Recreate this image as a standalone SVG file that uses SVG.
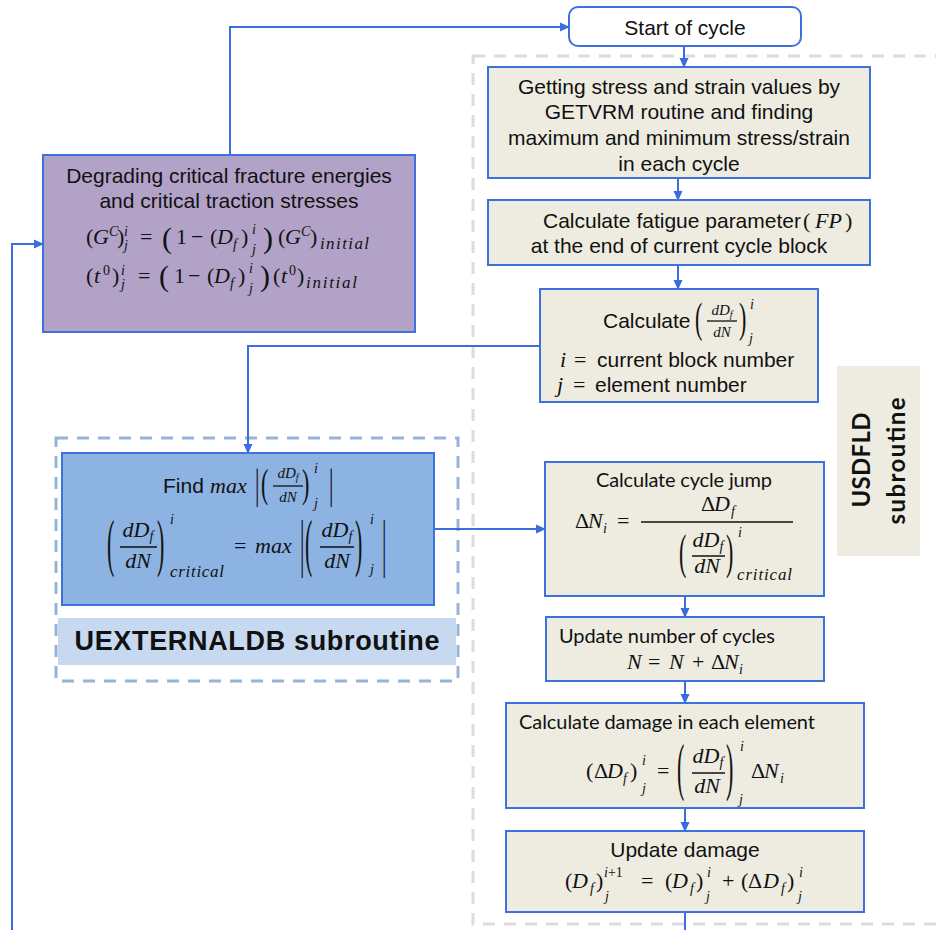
<svg xmlns="http://www.w3.org/2000/svg" width="936" height="930" viewBox="0 0 936 930">
<style>
.bg{fill:#ffffff}
.box{stroke:#3d72dc;stroke-width:2}
.beige{fill:#eeece1}
.purple{fill:#b2a2c8}
.blue{fill:#8db3e2}
.conn{fill:none;stroke:#3b6de0;stroke-width:2}
.t{font-family:"Liberation Sans",Arial,sans-serif;font-size:21px;fill:#111}
.c{font-family:Lato,"Open Sans",sans-serif;font-size:20px;fill:#111}
.m{font-family:"Liberation Serif","DejaVu Serif",serif;font-style:italic;font-size:22px;fill:#111}
.u{font-family:"Liberation Serif","DejaVu Serif",serif;font-size:22px;fill:#111}
.s{font-size:14px}
.fr{stroke:#111;stroke-width:1.3}
.lb{font-family:Lato,"Liberation Sans",sans-serif;font-weight:bold;font-size:24px;fill:#111}
</style>
<defs>
<marker id="ah" markerWidth="10" markerHeight="10" refX="9" refY="5" orient="auto" markerUnits="userSpaceOnUse">
<path d="M0,0.5 L10,5 L0,9.5 z" fill="#3b6de0"/>
</marker>
</defs>
<rect class="bg" x="0" y="0" width="936" height="930"/>

<g id="usdfld-region">
<rect x="473" y="56" width="480" height="868" fill="none" stroke="#dcdcdc" stroke-width="3" stroke-dasharray="12 9"/>
</g>

<g id="uexternaldb-region">
<rect x="56" y="438" width="402" height="243" fill="none" stroke="#95b3d7" stroke-width="3" stroke-dasharray="12 9"/>
<rect x="58" y="618" width="398" height="47" fill="#c6d9f1"/>
<text class="t" x="257" y="650" text-anchor="middle" style="font-weight:bold;font-size:27px" textLength="365">UEXTERNALDB subroutine</text>
</g>

<g id="usdfld-label">
<rect x="837" y="366" width="83" height="190" fill="#eeece1"/>
<text class="lb" transform="translate(870,460) rotate(-90)" text-anchor="middle" textLength="95">USDFLD</text>
<text class="lb" transform="translate(905,461) rotate(-90)" text-anchor="middle" textLength="127">subroutine</text>
</g>

<g id="connectors">
<path class="conn" d="M12,930 V244 H43" marker-end="url(#ah)"/>
<path class="conn" d="M230,155 V27 H569" marker-end="url(#ah)"/>
<path class="conn" d="M684,46 V67" marker-end="url(#ah)"/>
<path class="conn" d="M678,178 V200" marker-end="url(#ah)"/>
<path class="conn" d="M678,265 V289" marker-end="url(#ah)"/>
<path class="conn" d="M540,346 H248 V453" marker-end="url(#ah)"/>
<path class="conn" d="M434,529 H545" marker-end="url(#ah)"/>
<path class="conn" d="M685,596 V617" marker-end="url(#ah)"/>
<path class="conn" d="M685,681 V703" marker-end="url(#ah)"/>
<path class="conn" d="M685,808 V831" marker-end="url(#ah)"/>
<path class="conn" d="M685,912 V930"/>
</g>

<g id="start">
<rect x="569" y="7" width="232" height="39" rx="9" fill="#ffffff" class="box"/>
<text class="t" x="685" y="35" text-anchor="middle">Start of cycle</text>
</g>

<g id="degrade">
<rect x="43" y="155" width="372" height="177" class="purple box"/>
<text class="t" x="229" y="183" text-anchor="middle">Degrading critical fracture energies</text>
<text class="t" x="229" y="208" text-anchor="middle">and critical traction stresses</text>
<text class="u" x="86" y="244">(</text>
<text class="m" x="93" y="244">G</text>
<text class="m s" x="109" y="236">C</text>
<text class="u" x="117" y="244">)</text>
<text class="m s" x="124" y="236">i</text>
<text class="m s" x="124" y="250">j</text>
<text class="u" x="140" y="244">=</text>
<text class="u" x="162" y="248" style="font-size:30px">(</text>
<text class="u" x="176" y="244">1</text>
<text class="u" x="191" y="244">−</text>
<text class="u" x="210" y="244">(</text>
<text class="m" x="217" y="244">D</text>
<text class="m s" x="233" y="249">f</text>
<text class="u" x="241" y="244">)</text>
<text class="m s" x="252" y="234">i</text>
<text class="m s" x="252" y="254">j</text>
<text class="u" x="263" y="248" style="font-size:30px">)</text>
<text class="u" x="278" y="244">(</text>
<text class="m" x="285" y="244">G</text>
<text class="m s" x="301" y="236">C</text>
<text class="u" x="310" y="244">)</text>
<text class="m" x="320" y="249" style="font-size:17px" textLength="49">initial</text>

<text class="u" x="86" y="283">(</text>
<text class="m" x="94" y="283">t</text>
<text class="u s" x="103" y="275">0</text>
<text class="u" x="112" y="283">)</text>
<text class="m s" x="121" y="275">i</text>
<text class="m s" x="121" y="289">j</text>
<text class="u" x="138" y="283">=</text>
<text class="u" x="159" y="286" style="font-size:30px">(</text>
<text class="u" x="174" y="283">1</text>
<text class="u" x="188" y="283">−</text>
<text class="u" x="207" y="283">(</text>
<text class="m" x="214" y="283">D</text>
<text class="m s" x="230" y="288">f</text>
<text class="u" x="238" y="283">)</text>
<text class="m s" x="249" y="273">i</text>
<text class="m s" x="249" y="293">j</text>
<text class="u" x="260" y="286" style="font-size:30px">)</text>
<text class="u" x="273" y="283">(</text>
<text class="m" x="281" y="283">t</text>
<text class="u s" x="289" y="275">0</text>
<text class="u" x="297" y="283">)</text>
<text class="m" x="306" y="288" style="font-size:17px" textLength="51">initial</text>
</g>

<g id="getting">
<rect x="488" y="67" width="382" height="111" class="beige box"/>
<text class="t" x="679" y="94" text-anchor="middle">Getting stress and strain values by</text>
<text class="t" x="679" y="119" text-anchor="middle">GETVRM routine and finding</text>
<text class="t" x="679" y="145" text-anchor="middle">maximum and minimum stress/strain</text>
<text class="t" x="679" y="171" text-anchor="middle">in each cycle</text>
</g>

<g id="fatigue">
<rect x="488" y="200" width="382" height="65" class="beige box"/>
<text class="t" x="543" y="228">Calculate fatigue parameter</text>
<text class="u" x="803" y="228">(</text>
<text class="m" x="815" y="228">FP</text>
<text class="u" x="845" y="228">)</text>
<text class="t" x="679" y="253" text-anchor="middle">at the end of current cycle block</text>
</g>

<g id="rate">
<rect x="540" y="289" width="278" height="113" class="beige box"/>
<text class="t" x="603" y="328">Calculate</text>
<text class="u" transform="translate(695,332.4) scale(1,1.95)">(</text>
<text class="m" x="722" y="315" style="font-size:15px" text-anchor="middle">dD<tspan style="font-size:10px" dy="3">f</tspan></text>
<line class="fr" x1="707" y1="321" x2="737" y2="321"/>
<text class="m" x="722" y="337" style="font-size:15px" text-anchor="middle">dN</text>
<text class="u" transform="translate(739,332.4) scale(1,1.95)">)</text>
<text class="m s" x="750" y="309">i</text>
<text class="m s" x="749" y="343">j</text>
<text class="m" x="560" y="367">i</text>
<text class="u" x="574" y="367">=</text>
<text class="t" x="597" y="367">current block number</text>
<text class="m" x="557" y="392">j</text>
<text class="u" x="573" y="392">=</text>
<text class="t" x="595" y="392">element number</text>
</g>

<g id="findmax">
<rect x="62" y="453" width="372" height="152" class="blue box"/>
<text class="t" x="163" y="493">Find</text>
<text class="m" x="210" y="493">max</text>
<text class="u" transform="translate(255,497.8) scale(1,1.9)">|</text>
<text class="u" transform="translate(261,497.3) scale(1,1.84)">(</text>
<text class="m" x="288" y="478" style="font-size:15px" text-anchor="middle">dD<tspan style="font-size:10px" dy="3">f</tspan></text>
<line class="fr" x1="273" y1="486" x2="303" y2="486"/>
<text class="m" x="288" y="502" style="font-size:15px" text-anchor="middle">dN</text>
<text class="u" transform="translate(302,497.3) scale(1,1.84)">)</text>
<text class="m s" x="314" y="473">i</text>
<text class="m s" x="314" y="508">j</text>
<text class="u" transform="translate(329,497.8) scale(1,1.9)">|</text>

<text class="u" transform="translate(107,563.7) scale(1,2.9)">(</text>
<text class="m" x="138" y="537" text-anchor="middle">dD<tspan class="s" dy="4">f</tspan></text>
<line class="fr" x1="120" y1="547" x2="157" y2="547"/>
<text class="m" x="138" y="568" text-anchor="middle">dN</text>
<text class="u" transform="translate(157,563.7) scale(1,2.9)">)</text>
<text class="m s" x="170" y="524">i</text>
<text class="m" x="170" y="577" style="font-size:17px" textLength="54">critical</text>
<text class="u" x="234" y="553">=</text>
<text class="m" x="255" y="553">max</text>
<text class="u" transform="translate(300,564.2) scale(1,2.86)">|</text>
<text class="u" transform="translate(305,563.7) scale(1,2.9)">(</text>
<text class="m" x="337" y="537" text-anchor="middle">dD<tspan class="s" dy="4">f</tspan></text>
<line class="fr" x1="320" y1="547" x2="354" y2="547"/>
<text class="m" x="337" y="568" text-anchor="middle">dN</text>
<text class="u" transform="translate(355,563.7) scale(1,2.9)">)</text>
<text class="m s" x="370" y="524">i</text>
<text class="m s" x="370" y="574">j</text>
<text class="u" transform="translate(382,564.2) scale(1,2.86)">|</text>
</g>

<g id="jump">
<rect x="545" y="462" width="279" height="134" class="beige box"/>
<text class="c" x="596" y="487" textLength="176">Calculate cycle jump</text>
<text class="u" x="575" y="528">Δ</text>
<text class="m" x="588" y="528">N</text>
<text class="m s" x="603" y="533">i</text>
<text class="u" x="617" y="528">=</text>
<text class="u" x="701" y="511">Δ</text>
<text class="m" x="714" y="511">D</text>
<text class="m s" x="731" y="516">f</text>
<line class="fr" x1="641" y1="522" x2="793" y2="522"/>
<text class="u" transform="translate(679,568.3) scale(1,2.2)">(</text>
<text class="m" x="708" y="547" text-anchor="middle">dD<tspan class="s" dy="4">f</tspan></text>
<line class="fr" x1="692" y1="556" x2="725" y2="556"/>
<text class="m" x="707" y="573" text-anchor="middle">dN</text>
<text class="u" transform="translate(726,568.3) scale(1,2.2)">)</text>
<text class="m s" x="738" y="537">i</text>
<text class="m" x="737" y="580" style="font-size:17px" textLength="55">critical</text>
</g>

<g id="update-n">
<rect x="546" y="617" width="278" height="64" class="beige box"/>
<text class="c" x="559" y="643" textLength="216">Update number of cycles</text>
<text class="m" x="627" y="669">N</text>
<text class="u" x="648" y="669">=</text>
<text class="m" x="669" y="669">N</text>
<text class="u" x="692" y="669">+</text>
<text class="u" x="711" y="669">Δ</text>
<text class="m" x="724" y="669">N</text>
<text class="m s" x="739" y="674">i</text>
</g>

<g id="damage">
<rect x="506" y="703" width="358" height="105" class="beige box"/>
<text class="c" x="519" y="729" textLength="296">Calculate damage in each element</text>
<text class="u" x="586" y="778">(</text>
<text class="u" x="594" y="778">Δ</text>
<text class="m" x="607" y="778">D</text>
<text class="m s" x="623" y="783">f</text>
<text class="u" x="630" y="778">)</text>
<text class="m s" x="642" y="765">i</text>
<text class="m s" x="642" y="793">j</text>
<text class="u" x="657" y="778">=</text>
<text class="u" transform="translate(677,787.7) scale(1,2.9)">(</text>
<text class="m" x="708" y="763" text-anchor="middle">dD<tspan class="s" dy="4">f</tspan></text>
<line class="fr" x1="692" y1="773" x2="725" y2="773"/>
<text class="m" x="707" y="793" text-anchor="middle">dN</text>
<text class="u" transform="translate(726,787.7) scale(1,2.9)">)</text>
<text class="m s" x="740" y="751">i</text>
<text class="m s" x="739" y="804">j</text>
<text class="u" x="751" y="778">Δ</text>
<text class="m" x="764" y="778">N</text>
<text class="m s" x="780" y="783">i</text>
</g>

<g id="update-d">
<rect x="506" y="831" width="358" height="81" class="beige box"/>
<text class="t" x="685" y="857" text-anchor="middle">Update damage</text>
<text class="u" x="565" y="888">(</text>
<text class="m" x="572" y="888">D</text>
<text class="m s" x="590" y="893">f</text>
<text class="u" x="596" y="888">)</text>
<text class="u s" x="604" y="877"><tspan style="font-style:italic">i</tspan>+1</text>
<text class="m s" x="605" y="901">j</text>
<text class="u" x="641" y="888">=</text>
<text class="u" x="665" y="888">(</text>
<text class="m" x="672" y="888">D</text>
<text class="m s" x="690" y="893">f</text>
<text class="u" x="696" y="888">)</text>
<text class="m s" x="707" y="877">i</text>
<text class="m s" x="706" y="901">j</text>
<text class="u" x="722" y="888">+</text>
<text class="u" x="741" y="888">(</text>
<text class="u" x="748" y="888">Δ</text>
<text class="m" x="763" y="888">D</text>
<text class="m s" x="781" y="893">f</text>
<text class="u" x="787" y="888">)</text>
<text class="m s" x="799" y="877">i</text>
<text class="m s" x="798" y="901">j</text>
</g>
</svg>
